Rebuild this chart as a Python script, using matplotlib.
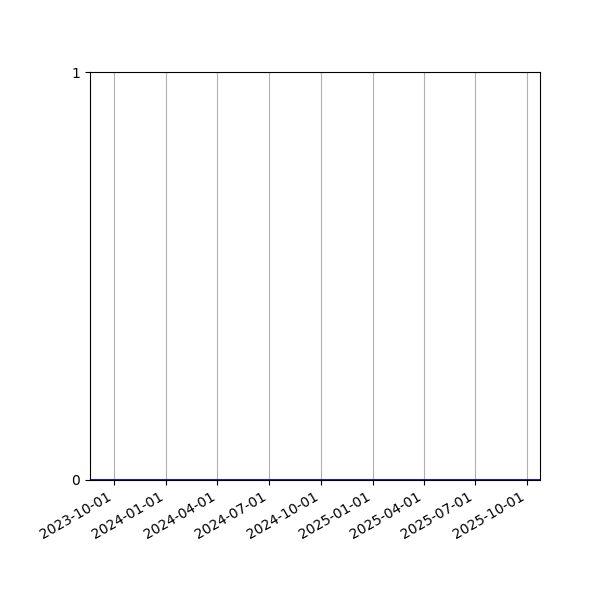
import matplotlib
matplotlib.use("Agg")
import matplotlib.pyplot as plt
import matplotlib.dates as mdates
import numpy as np

dates = np.array(["2023-08-20", "2023-12-01", "2024-04-01", "2024-08-01",
                  "2024-12-01", "2025-04-01", "2025-08-01", "2025-10-24"],
                 dtype="datetime64[D]")
values = [0, 0, 0, 0, 0, 0, 0, 0]
tick_dates = np.array(["2023-10-01", "2024-01-01", "2024-04-01", "2024-07-01",
                       "2024-10-01", "2025-01-01", "2025-04-01", "2025-07-01",
                       "2025-10-01"], dtype="datetime64[D]")

fig, ax = plt.subplots(figsize=(6, 6), dpi=100)
ax.plot(dates, values, color="#0000cc", linewidth=2)
ax.set_xlim(dates[0], dates[-1])
ax.set_ylim(0, 1)
ax.set_yticks([0, 1])
ax.set_xticks(tick_dates)
ax.xaxis.set_major_formatter(mdates.DateFormatter("%Y-%m-%d"))
ax.grid(axis="x", color="#b0b0b0", linewidth=0.8)
fig.autofmt_xdate()
fig.subplots_adjust(left=0.15, right=0.9, top=0.88, bottom=0.2)
plt.savefig("out.png", dpi=100)
